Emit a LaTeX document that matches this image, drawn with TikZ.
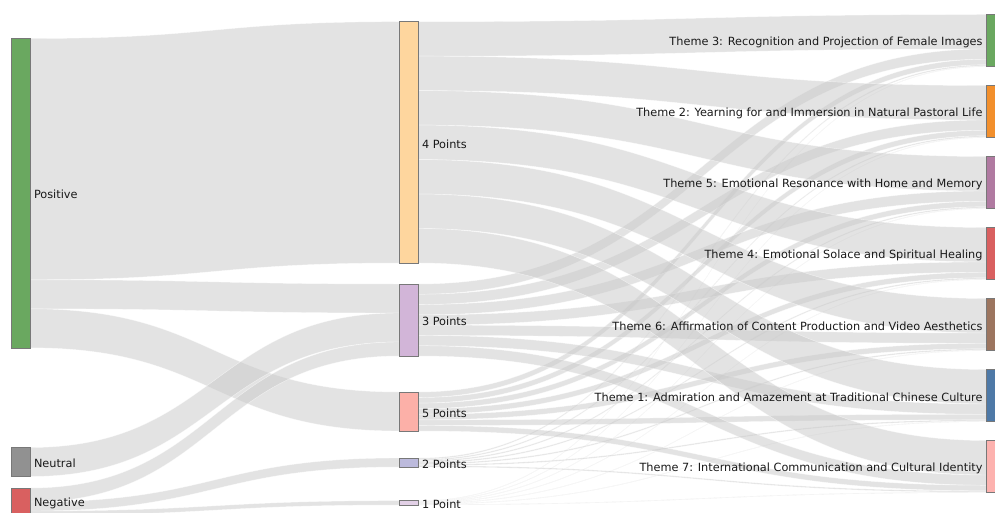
\documentclass[tikz,border=0pt]{standalone}
\usepackage{fontspec}
\setmainfont{DejaVu Sans}
\usetikzlibrary{calc}
\definecolor{cpos}{RGB}{106,168,96}
\definecolor{cneu}{RGB}{145,145,145}
\definecolor{cneg}{RGB}{217,96,96}
\definecolor{cpfour}{RGB}{254,214,158}
\definecolor{cpthree}{RGB}{210,181,216}
\definecolor{cpfive}{RGB}{252,176,168}
\definecolor{cptwo}{RGB}{188,186,220}
\definecolor{cpone}{RGB}{226,208,230}
\definecolor{ctthree}{RGB}{106,168,96}
\definecolor{cttwo}{RGB}{242,143,44}
\definecolor{ctfive}{RGB}{176,122,161}
\definecolor{ctfour}{RGB}{217,96,96}
\definecolor{ctsix}{RGB}{156,117,95}
\definecolor{ctone}{RGB}{78,121,167}
\definecolor{ctseven}{RGB}{253,178,175}
\definecolor{cband}{RGB}{200,200,200}
\definecolor{cedge}{RGB}{120,120,120}
\definecolor{ctext}{RGB}{25,25,25}
\tikzset{
  nodebox/.style={draw=cedge,line width=0.6pt,inner sep=0pt,outer sep=0pt,minimum width=19pt,anchor=north west},
  linkband/.style={fill=cband,fill opacity=0.5,draw=white,draw opacity=0.6,line width=0.4pt},
  lbl/.style={inner sep=0pt,outer sep=0pt,text=ctext,font=\fontsize{11.3}{13}\selectfont},
}
\newcommand{\sklink}[5]{%
  \path ([yshift={-(#2)*1pt}]#1.north east) coordinate (sA)
        ([yshift={-(#2+#3)*1pt}]#1.north east) coordinate (sB)
        ([yshift={-(#5)*1pt}]#4.north west) coordinate (tA)
        ([yshift={-(#5+#3)*1pt}]#4.north west) coordinate (tB);
  \path ($(sA)!0.5!(tA)$) coordinate (mAB);
  \fill[linkband] (sA) .. controls (mAB |- sA) and (mAB |- tA) .. (tA) -- (tB)
    .. controls (mAB |- tB) and (mAB |- sB) .. (sB) -- cycle;
}
\begin{document}
\begin{tikzpicture}[x=1pt,y=-1pt]
\useasboundingbox (0,0) rectangle (995,513);
\clip (0,0) rectangle (995,513);
% nodes
\node[nodebox,fill=cpos,minimum height=309.3pt] (pos) at (11,38.5) {};
\node[nodebox,fill=cneu,minimum height=29pt] (neu) at (11,447.5) {};
\node[nodebox,fill=cneg,minimum height=27.3pt] (neg) at (11,488) {};
\node[nodebox,fill=cpfour,minimum height=241.3pt] (p4) at (399,21.7) {};
\node[nodebox,fill=cpthree,minimum height=72pt] (p3) at (399,284) {};
\node[nodebox,fill=cpfive,minimum height=39pt] (p5) at (399,392) {};
\node[nodebox,fill=cptwo,minimum height=9pt] (p2) at (399,458) {};
\node[nodebox,fill=cpone,minimum height=4.3pt] (p1) at (399,500.7) {};
\node[nodebox,fill=ctthree,minimum height=52.23pt] (t3) at (986.5,14.5) {};
\node[nodebox,fill=cttwo,minimum height=52.23pt] (t2) at (986.5,85.5) {};
\node[nodebox,fill=ctfive,minimum height=52.23pt] (t5) at (986.5,156.5) {};
\node[nodebox,fill=ctfour,minimum height=52.23pt] (t4) at (986.5,227.5) {};
\node[nodebox,fill=ctsix,minimum height=52.23pt] (t6) at (986.5,298.5) {};
\node[nodebox,fill=ctone,minimum height=52.23pt] (t1) at (986.5,369.5) {};
\node[nodebox,fill=ctseven,minimum height=52.23pt] (t7) at (986.5,440.5) {};
% links left -> middle
\sklink{pos}{0}{241.3}{p4}{0}
\sklink{pos}{241.3}{29}{p3}{0}
\sklink{pos}{270.3}{39}{p5}{0}
\sklink{neu}{0}{29}{p3}{29}
\sklink{neg}{0}{14}{p3}{58}
\sklink{neg}{14}{9}{p2}{0}
\sklink{neg}{23}{4.3}{p1}{0}
% links middle -> themes
\foreach \t [count=\i from 0] in {t3,t2,t5,t4,t6,t1,t7} {
  \sklink{p4}{\i*34.47}{34.47}{\t}{0}
  \sklink{p3}{\i*10.286}{10.286}{\t}{34.47}
  \sklink{p5}{\i*5.571}{5.571}{\t}{44.756}
  \sklink{p2}{\i*1.286}{1.286}{\t}{50.327}
  \sklink{p1}{\i*0.614}{0.614}{\t}{51.613}
}
% redraw nodes on top of the bands
\foreach \n/\c in {pos/cpos,neu/cneu,neg/cneg,p4/cpfour,p3/cpthree,p5/cpfive,p2/cptwo,p1/cpone,t3/ctthree,t2/cttwo,t5/ctfive,t4/ctfour,t6/ctsix,t1/ctone,t7/ctseven}
  \draw[draw=cedge,line width=0.6pt,fill=\c] (\n.north west) rectangle (\n.south east);
% labels
\node[lbl,anchor=west] (lpos) at ([xshift=4pt,yshift=-1.5pt]pos.east) {Positive};
\node[lbl,anchor=west] (lneu) at ([xshift=4pt,yshift=-1.5pt]neu.east) {Neutral};
\node[lbl,anchor=west] (lneg) at ([xshift=4pt,yshift=-1.5pt]neg.east) {Negative};
\node[lbl,anchor=west] (lp4) at ([xshift=4pt,yshift=-1.5pt]p4.east) {4 Points};
\node[lbl,anchor=west] (lp3) at ([xshift=4pt,yshift=-1.5pt]p3.east) {3 Points};
\node[lbl,anchor=west] (lp5) at ([xshift=4pt,yshift=-1.5pt]p5.east) {5 Points};
\node[lbl,anchor=west] (lp2) at ([xshift=4pt,yshift=-1.5pt]p2.east) {2 Points};
\node[lbl,anchor=west] (lp1) at ([xshift=4pt,yshift=-1.5pt]p1.east) {1 Point};
\node[lbl,anchor=east] (lt3) at ([xshift=-4pt,yshift=-1.5pt]t3.west) {Theme 3: Recognition and Projection of Female Images};
\node[lbl,anchor=east] (lt2) at ([xshift=-4pt,yshift=-1.5pt]t2.west) {Theme 2: Yearning for and Immersion in Natural Pastoral Life};
\node[lbl,anchor=east] (lt5) at ([xshift=-4pt,yshift=-1.5pt]t5.west) {Theme 5: Emotional Resonance with Home and Memory};
\node[lbl,anchor=east] (lt4) at ([xshift=-4pt,yshift=-1.5pt]t4.west) {Theme 4: Emotional Solace and Spiritual Healing};
\node[lbl,anchor=east] (lt6) at ([xshift=-4pt,yshift=-1.5pt]t6.west) {Theme 6: Affirmation of Content Production and Video Aesthetics};
\node[lbl,anchor=east] (lt1) at ([xshift=-4pt,yshift=-1.5pt]t1.west) {Theme 1: Admiration and Amazement at Traditional Chinese Culture};
\node[lbl,anchor=east] (lt7) at ([xshift=-4pt,yshift=-1.5pt]t7.west) {Theme 7: International Communication and Cultural Identity};
\end{tikzpicture}
\end{document}
